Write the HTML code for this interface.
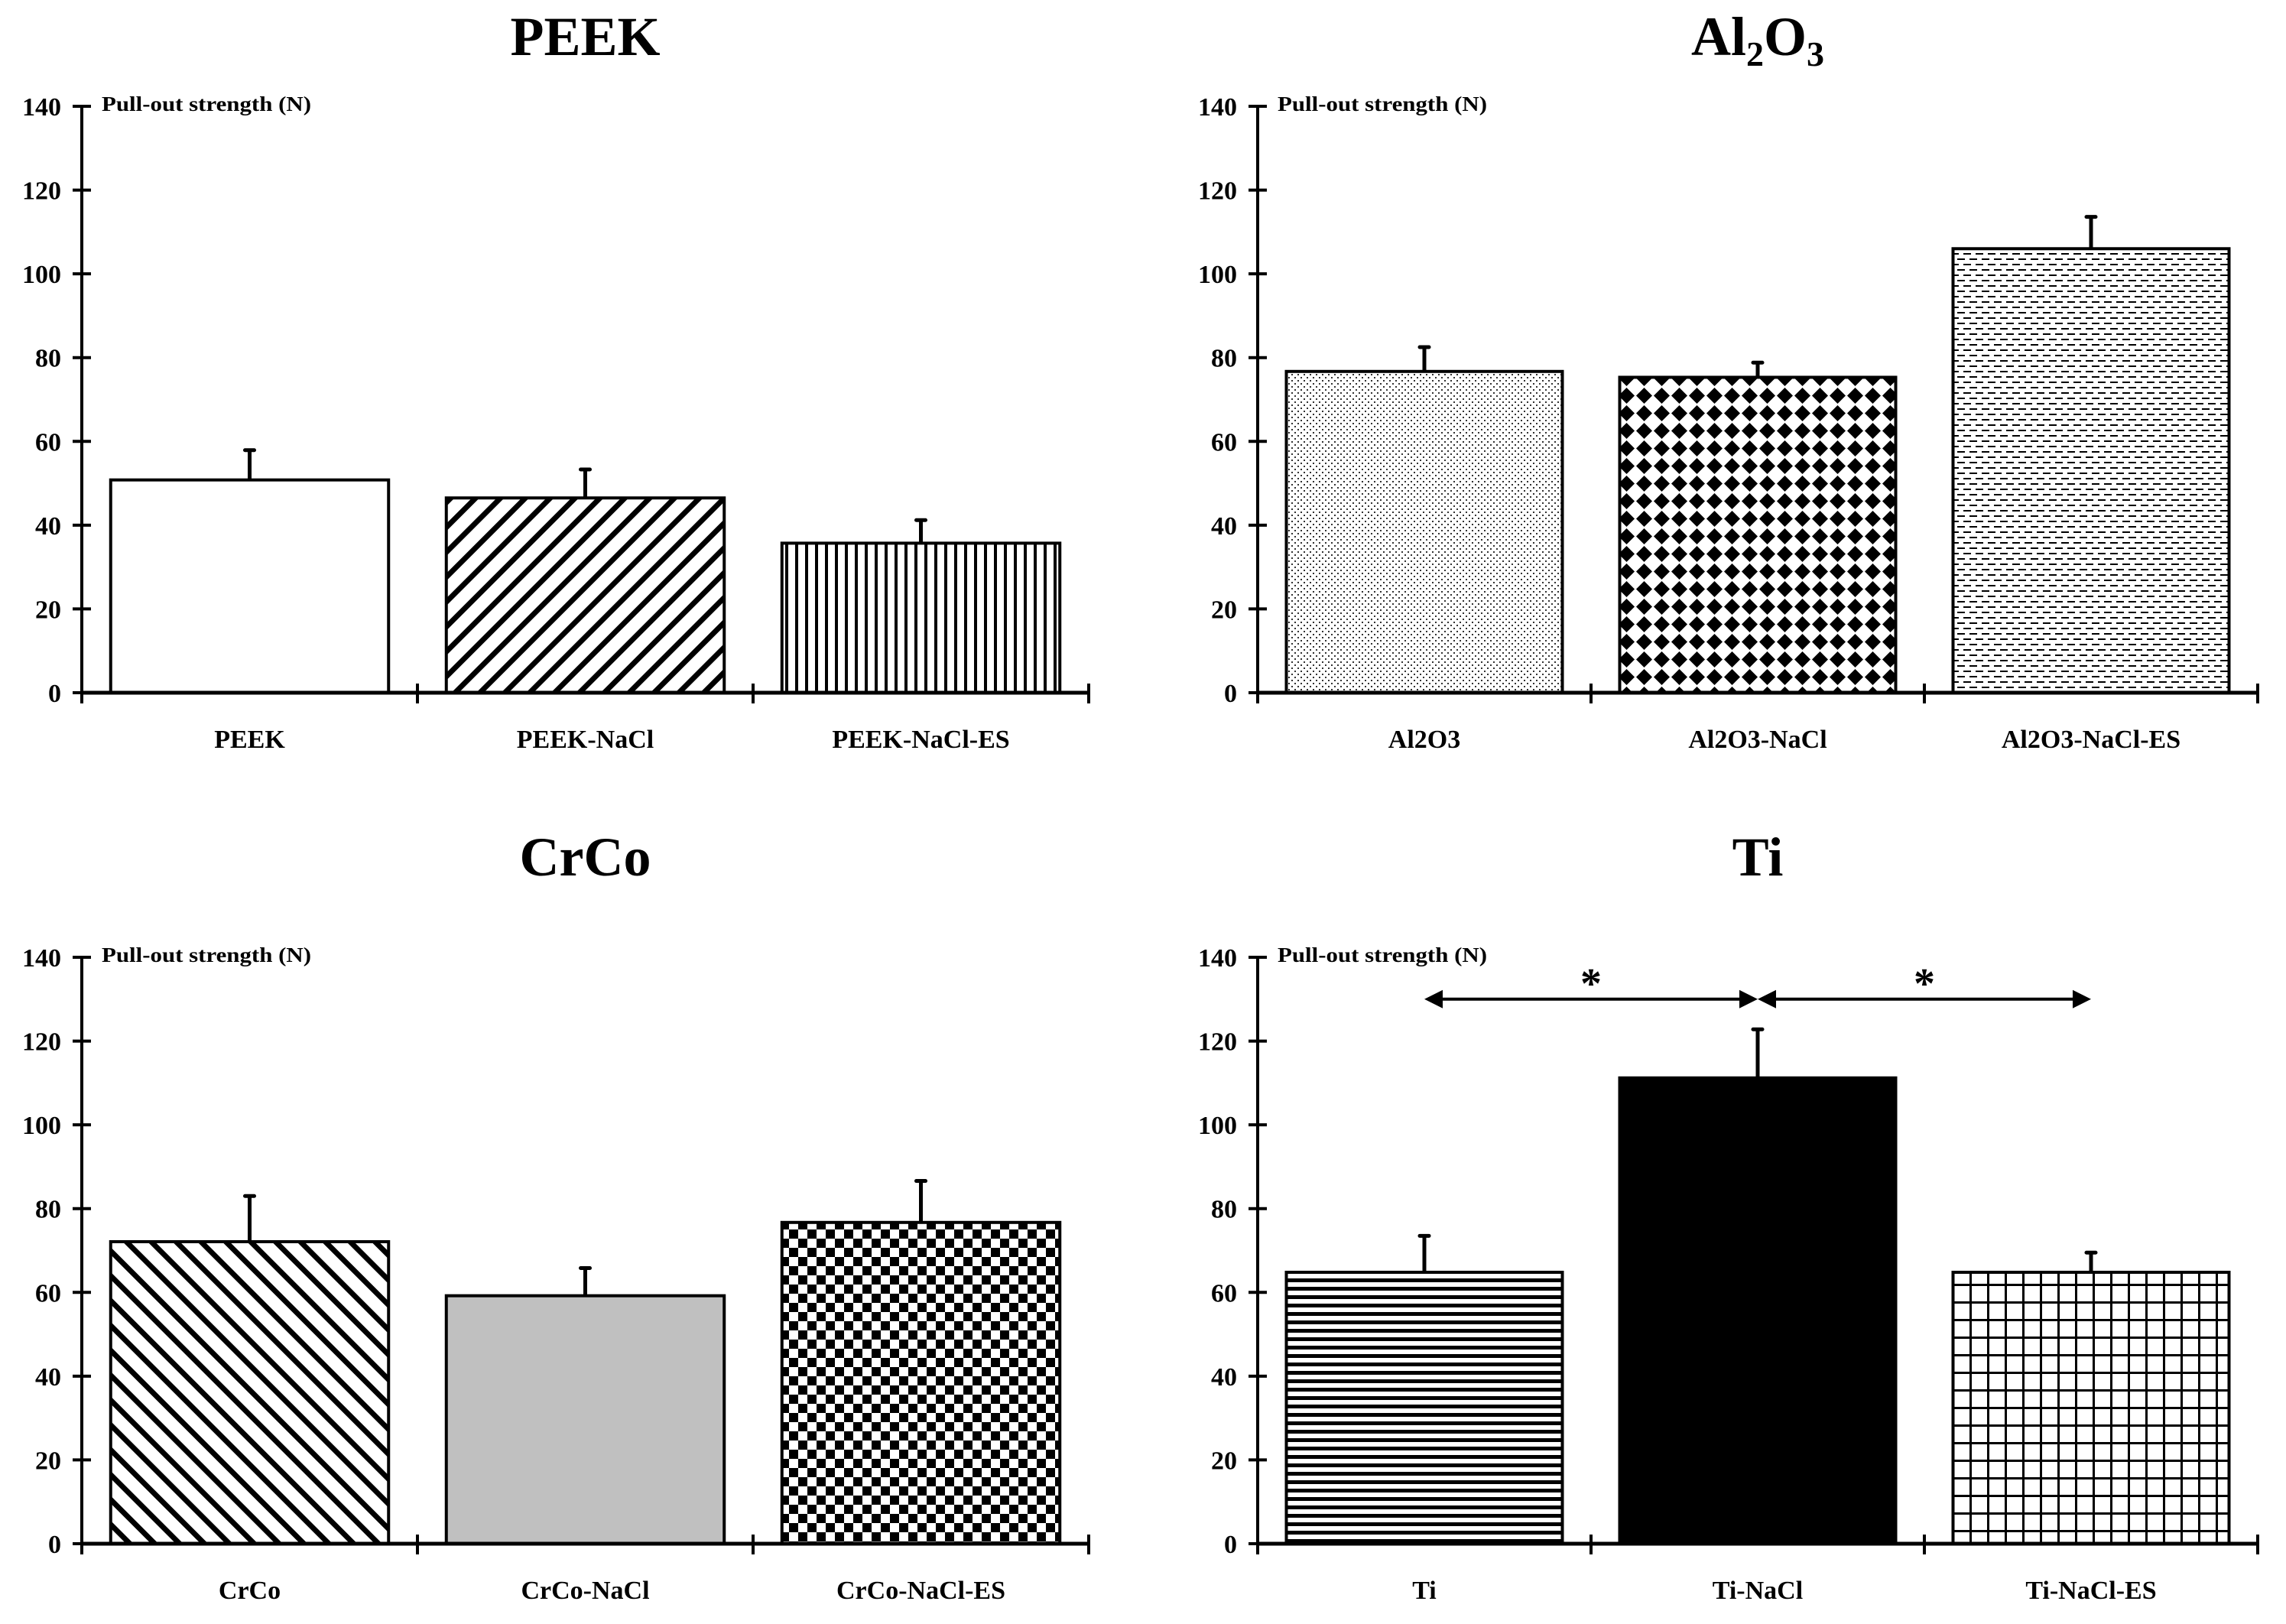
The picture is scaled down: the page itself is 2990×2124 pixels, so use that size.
<!DOCTYPE html>
<html><head><meta charset="utf-8"><style>
html,body{margin:0;padding:0;background:#fff}
svg{display:block}
text{font-family:"Liberation Serif",serif;font-weight:bold;fill:#000}
</style></head><body>
<svg id="chart" width="2990" height="2124" viewBox="0 0 2990 2124" xmlns="http://www.w3.org/2000/svg">
<defs>
<pattern id="p-fdiag" patternUnits="userSpaceOnUse" width="23" height="23" patternTransform="rotate(45)"><rect width="23" height="23" fill="#fff"/><rect x="0" y="0" width="7" height="23" fill="#000"/></pattern>
<pattern id="p-bdiag" patternUnits="userSpaceOnUse" width="23" height="23" patternTransform="rotate(-45)"><rect width="23" height="23" fill="#fff"/><rect x="0" y="0" width="7" height="23" fill="#000"/></pattern>
<pattern id="p-vert" patternUnits="userSpaceOnUse" width="13" height="13"><rect width="13" height="13" fill="#fff"/><rect x="0" y="0" width="4" height="13" fill="#000"/></pattern>
<pattern id="p-dots" patternUnits="userSpaceOnUse" width="8" height="8"><rect width="8" height="8" fill="#fff"/><rect x="1" y="1" width="2" height="2" fill="#333"/><rect x="5" y="5" width="2" height="2" fill="#333"/></pattern>
<pattern id="p-diamond" patternUnits="userSpaceOnUse" width="23" height="23"><rect width="23" height="23" fill="#fff"/><path d="M11.5 1 L22 11.5 L11.5 22 L1 11.5 Z" fill="#000"/></pattern>
<pattern id="p-dash" patternUnits="userSpaceOnUse" width="16" height="14"><rect width="16" height="14" fill="#fff"/><rect x="0" y="2" width="10" height="2" fill="#000"/><rect x="8" y="9" width="8" height="2" fill="#000"/><rect x="0" y="9" width="2" height="2" fill="#000"/></pattern>
<pattern id="p-check" patternUnits="userSpaceOnUse" width="24" height="24"><rect width="24" height="24" fill="#fff"/><rect x="0" y="0" width="12" height="12" fill="#000"/><rect x="12" y="12" width="12" height="12" fill="#000"/></pattern>
<pattern id="p-horiz" patternUnits="userSpaceOnUse" width="11" height="11"><rect width="11" height="11" fill="#fff"/><rect x="0" y="0" width="11" height="5" fill="#000"/></pattern>
<pattern id="p-grid" patternUnits="userSpaceOnUse" width="23" height="23"><rect width="23" height="23" fill="#fff"/><rect x="0" y="0" width="3" height="23" fill="#000"/><rect x="0" y="0" width="23" height="3" fill="#000"/></pattern>
</defs>
</svg>
<script>
const panelTitles = ["PEEK","Al2O3","CrCo","Ti"];
const peekCats = ["PEEK","PEEK-NaCl","PEEK-NaCl-ES"];
const peekVals = [50.8, 46.5, 35.7];
const peekErr = [57.9, 53.3, 41.2];
const alCats = ["Al2O3","Al2O3-NaCl","Al2O3-NaCl-ES"];
const alVals = [76.7, 75.3, 106.0];
const alErr = [82.5, 78.8, 113.6];
const crCats = ["CrCo","CrCo-NaCl","CrCo-NaCl-ES"];
const crVals = [72.1, 59.2, 76.7];
const crErr = [83.0, 65.8, 86.6];
const tiCats = ["Ti","Ti-NaCl","Ti-NaCl-ES"];
const tiVals = [64.8, 111.2, 64.8];
const tiErr = [73.5, 122.8, 69.5];
const yTicks = [0,20,40,60,80,100,120,140];
const sigY = 130;

const NS = "http://www.w3.org/2000/svg";
const svg = document.getElementById('chart');
function mk(tag, attrs, parent){const e=document.createElementNS(NS,tag);for(const k in attrs)e.setAttribute(k,attrs[k]);(parent||svg).appendChild(e);return e;}

const panels = [
 {key:'peek', cats:peekCats, vals:peekVals, err:peekErr, fills:['#fff','url(#p-fdiag)','url(#p-vert)'], x0:107, x1:1424, y0:906, yTop:139, titleY:72},
 {key:'al2o3', cats:alCats, vals:alVals, err:alErr, fills:['url(#p-dots)','url(#p-diamond)','url(#p-dash)'], x0:1645, x1:2953, y0:906, yTop:139, titleY:72},
 {key:'crco', cats:crCats, vals:crVals, err:crErr, fills:['url(#p-bdiag)','#c0c0c0','url(#p-check)'], x0:107, x1:1424, y0:2019, yTop:1252, titleY:1145},
 {key:'ti', cats:tiCats, vals:tiVals, err:tiErr, fills:['url(#p-horiz)','#000','url(#p-grid)'], x0:1645, x1:2953, y0:2019, yTop:1252, titleY:1145}
];

panels.forEach((p,pi)=>{
  const g = mk('g',{});
  
  
  const yS = v => p.y0 - v/140*(p.y0-p.yTop);
  const cw = (p.x1-p.x0)/p.cats.length;
  const xS = i => p.x0 + cw*i;
  const t = mk('text',{x:(p.x0+p.x1)/2, y:p.titleY, 'text-anchor':'middle', 'font-size':72}, g);
  
  
  if(panelTitles[pi]==='Al2O3'){
    t.innerHTML = 'Al<tspan font-size="46" dy="14">2</tspan><tspan dy="-14">O</tspan><tspan font-size="46" dy="14">3</tspan>';
  } else t.textContent = panelTitles[pi];
  p.vals.forEach((v,i)=>{
    const bx = xS(i)+cw*0.086, bw = cw*(1-0.172);
    const r = mk('rect',{x:bx, y:yS(v), width:bw, height:yS(0)-yS(v), fill:p.fills[i], stroke:'#000','stroke-width':4}, g);
    
    
    const cx = xS(i)+cw/2;
    const eb = mk('line',{x1:cx,x2:cx,y1:yS(v),y2:yS(p.err[i]),stroke:'#000','stroke-width':5}, g);
    
    
    const cap = mk('line',{x1:cx-6,x2:cx+6,y1:yS(p.err[i]),y2:yS(p.err[i]),stroke:'#000','stroke-width':5,'stroke-linecap':'round'}, g);
    
    
    const lb = mk('text',{x:cx, y:p.y0+72, 'text-anchor':'middle', 'font-size':34}, g);
    
    
    lb.textContent = p.cats[i];
  });
  const ya = mk('line',{x1:p.x0,x2:p.x0,y1:p.y0+14,y2:yS(140),stroke:'#000','stroke-width':4}, g);
  
  
  const xa = mk('line',{x1:p.x0,x2:p.x1,y1:p.y0,y2:p.y0,stroke:'#000','stroke-width':5}, g);
  
  
  for(let i=1;i<=p.cats.length;i++){
    const tk = mk('line',{x1:xS(i),x2:xS(i),y1:p.y0-12,y2:p.y0+14,stroke:'#000','stroke-width':4}, g);
    
    
  }
  yTicks.forEach(v=>{
    const tk = mk('line',{x1:p.x0-12,x2:p.x0+12,y1:yS(v),y2:yS(v),stroke:'#000','stroke-width':4}, g);
    
    
    const tl = mk('text',{x:p.x0-27, y:yS(v)+12, 'text-anchor':'end', 'font-size':34}, g);
    
    
    tl.textContent = v;
  });
  const yt = mk('text',{x:p.x0+26, y:yS(140)+6, 'font-size':27, textLength:274, lengthAdjust:'spacingAndGlyphs'}, g);
  
  
  yt.textContent = 'Pull-out strength (N)';
  if(p.key==='ti'){
    const ay = yS(sigY);
    const c0 = xS(0)+cw/2, c1 = xS(1)+cw/2, c2 = xS(2)+cw/2;
    [[c0,c1],[c1,c2]].forEach((pr,k)=>{
      const ln = mk('line',{x1:pr[0]+14,x2:pr[1]-14,y1:ay,y2:ay,stroke:'#000','stroke-width':4}, g);
      
      
      const h1 = mk('path',{d:`M${pr[0]} ${ay} L${pr[0]+24} ${ay-12} L${pr[0]+24} ${ay+12} Z`,fill:'#000'}, g);
      
      
      const h2 = mk('path',{d:`M${pr[1]} ${ay} L${pr[1]-24} ${ay-12} L${pr[1]-24} ${ay+12} Z`,fill:'#000'}, g);
      
      
      const st = mk('text',{x:(pr[0]+pr[1])/2, y:ay-2, 'text-anchor':'middle', 'font-size':56}, g);
      
      
      st.textContent = '*';
    });
  }
});
</script>
</body></html>
